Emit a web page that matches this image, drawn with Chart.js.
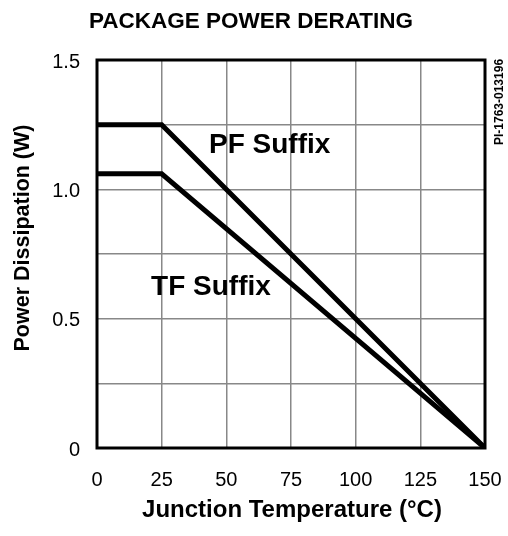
<!DOCTYPE html>
<html><head><meta charset="utf-8">
<style>html,body{margin:0;padding:0;background:#fff;}#wrap{width:508px;height:536px;position:relative;}canvas{display:block;}</style>
<script src="https://cdn.jsdelivr.net/npm/chart.js@4.4.0/dist/chart.umd.min.js"></script>
</head><body><div id="wrap"><canvas id="c" width="508" height="536"></canvas></div>
<script>
const temperatures = [0, 25, 150];
const pfPower = [1.25, 1.25, 0];
const tfPower = [1.06, 1.06, 0];
const xTickValues = [0, 25, 50, 75, 100, 125, 150];
const yTickValues = [0, 0.25, 0.5, 0.75, 1.0, 1.25, 1.5];
const yTickLabels = ['0', '', '0.5', '', '1.0', '', '1.5'];
const chartTitle = 'PACKAGE POWER DERATING';
const xTitle = 'Junction Temperature (\u00B0C)';
const yTitle = 'Power Dissipation (W)';
const seriesLabels = ['PF Suffix', 'TF Suffix'];
const figureId = 'PI-1763-013196';

const FONT = "'Liberation Sans', Arial, sans-serif";

const decor = {
  id: 'decor',
  beforeDatasetsDraw(chart) {
    const {ctx, chartArea: a} = chart;
    ctx.save();
    ctx.strokeStyle = '#000';
    ctx.lineWidth = 3;
    ctx.strokeRect(a.left, a.top, a.right - a.left, a.bottom - a.top);
    ctx.restore();
  },
  afterDraw(chart) {
    const {ctx, scales} = chart;
    ctx.save();
    ctx.fillStyle = '#000';
    ctx.textBaseline = 'alphabetic';
    ctx.textAlign = 'center';
    ctx.font = 'bold 22.5px ' + FONT;
    ctx.fillText(chartTitle, 251, 28);
    ctx.font = 'bold 24px ' + FONT;
    ctx.fillText(xTitle, 292, 517);
    ctx.save();
    ctx.translate(29, 238);
    ctx.rotate(-Math.PI / 2);
    ctx.font = 'bold 21.5px ' + FONT;
    ctx.textAlign = 'center';
    ctx.fillText(yTitle, 0, 0);
    ctx.restore();
    ctx.save();
    ctx.translate(503, 145);
    ctx.rotate(-Math.PI / 2);
    ctx.font = 'bold 12px ' + FONT;
    ctx.textAlign = 'left';
    ctx.fillText(figureId, 0, 0);
    ctx.restore();
    ctx.font = 'bold 28px ' + FONT;
    ctx.textAlign = 'left';
    ctx.fillText(seriesLabels[0], scales.x.getPixelForValue(43.3), scales.y.getPixelForValue(1.14));
    ctx.fillText(seriesLabels[1], scales.x.getPixelForValue(20.9), scales.y.getPixelForValue(0.59));
    ctx.restore();
  }
};

new Chart(document.getElementById('c'), {
  type: 'line',
  data: {
    labels: temperatures,
    datasets: [
      { label: seriesLabels[0], data: temperatures.map((t, i) => ({x: t, y: pfPower[i]})),
        borderColor: '#000', borderWidth: 5, pointRadius: 0, tension: 0, fill: false,
        borderJoinStyle: 'miter', borderCapStyle: 'butt' },
      { label: seriesLabels[1], data: temperatures.map((t, i) => ({x: t, y: tfPower[i]})),
        borderColor: '#000', borderWidth: 5, pointRadius: 0, tension: 0, fill: false,
        borderJoinStyle: 'miter', borderCapStyle: 'butt' }
    ]
  },
  options: {
    responsive: false,
    devicePixelRatio: 1,
    animation: false,
    layout: { padding: { left: 0, top: 60, right: 23, bottom: 0 } },
    plugins: { legend: { display: false }, tooltip: { enabled: false }, title: { display: false } },
    scales: {
      x: {
        type: 'linear', min: 0, max: 150,
        afterBuildTicks: s => { s.ticks = xTickValues.map(v => ({value: v})); },
        afterFit: s => { s.height = 88; s.paddingLeft = 0; s.paddingRight = 0; },
        grid: { color: '#888', lineWidth: 1.5, drawTicks: false },
        border: { display: false },
        ticks: { font: { family: FONT, size: 20 }, color: '#000', padding: 20, autoSkip: false, maxRotation: 0,
                 callback: v => String(v) }
      },
      y: {
        type: 'linear', min: 0, max: 1.5,
        afterBuildTicks: s => { s.ticks = yTickValues.map(v => ({value: v})); },
        afterFit: s => { s.width = 97; s.paddingTop = 0; s.paddingBottom = 0; },
        grid: { color: '#888', lineWidth: 1.5, drawTicks: false },
        border: { display: false },
        ticks: { font: { family: FONT, size: 20 }, color: '#000', padding: 17, autoSkip: false, labelOffset: 2,
                 callback: v => { const i = yTickValues.indexOf(v); return i >= 0 ? yTickLabels[i] : ''; } }
      }
    }
  },
  plugins: [decor]
});
</script></body></html>
